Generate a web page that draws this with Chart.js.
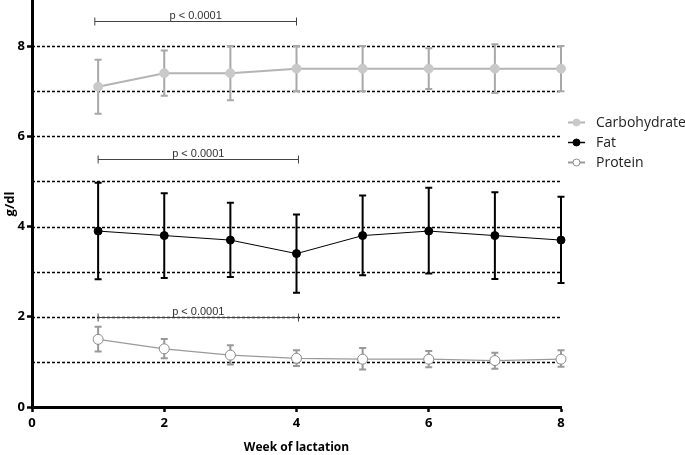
<!DOCTYPE html>
<html>
<head>
<meta charset="utf-8">
<script src="https://cdn.jsdelivr.net/npm/chart.js@4.4.0/dist/chart.umd.min.js"></script>
<style>
html,body{margin:0;padding:0;background:#fff;overflow:hidden;}
#wrap{width:685px;height:455px;position:relative;overflow:hidden;}
#c{position:absolute;left:0;top:-5px;}
</style>
</head>
<body>
<div id="wrap"><canvas id="c" width="685" height="460"></canvas></div>
<script>
const weeks = [1, 2, 3, 4, 5, 6, 7, 8];
const carbMean = [7.1, 7.4, 7.4, 7.5, 7.5, 7.5, 7.5, 7.5];
const carbLow  = [6.5, 6.9, 6.8, 7.0, 7.0, 7.05, 6.96, 7.0];
const carbHigh = [7.7, 7.9, 8.0, 8.0, 8.0, 7.95, 8.04, 8.0];
const fatMean = [3.9, 3.8, 3.7, 3.4, 3.8, 3.9, 3.8, 3.7];
const fatLow  = [2.83, 2.86, 2.88, 2.53, 2.92, 2.96, 2.84, 2.75];
const fatHigh = [4.97, 4.74, 4.53, 4.27, 4.69, 4.86, 4.76, 4.66];
const protMean = [1.5, 1.29, 1.15, 1.08, 1.06, 1.06, 1.03, 1.06];
const protLow  = [1.23, 1.08, 0.94, 0.91, 0.83, 0.88, 0.85, 0.89];
const protHigh = [1.78, 1.51, 1.37, 1.26, 1.31, 1.24, 1.20, 1.26];
const gridValues = [1, 2, 3, 4, 5, 6, 7, 8];
const yTickLabels = [0, 2, 4, 6, 8];
const xTickLabels = [0, 2, 4, 6, 8];
const bracketY = [8.56, 5.49, 2.0];
const bracketFrom = [0.95, 1.0, 1.0];
const bracketTo = [4.0, 4.03, 4.03];
const bracketText = ["p < 0.0001", "p < 0.0001", "p < 0.0001"];
const seriesNames = ["Carbohydrate", "Fat", "Protein"];

const pts = (m) => weeks.map((w, i) => ({x: w, y: m[i]}));

const styles = [
  {line:'#b4b4b4', lw:2, pf:'#c9c9c9', ps:'#c9c9c9', r:4.5, err:'#a8a8a8', ew:2},
  {line:'#000000', lw:1, pf:'#000000', ps:'#000000', r:4, err:'#000000', ew:2},
  {line:'#9a9a9a', lw:1.3, pf:'#ffffff', ps:'#8a8a8a', r:5, err:'#999999', ew:2}
];
const lows = [carbLow, fatLow, protLow];
const highs = [carbHigh, fatHigh, protHigh];

const gridPlugin = {
  id: 'dotgrid',
  beforeDatasetsDraw(chart) {
    const {ctx, chartArea, scales} = chart;
    ctx.save();
    ctx.strokeStyle = '#000';
    ctx.lineWidth = 1.5;
    ctx.setLineDash([3, 2]);
    gridValues.forEach(v => {
      const y = Math.round(scales.y.getPixelForValue(v)) + 0.5;
      ctx.beginPath();
      ctx.moveTo(chartArea.left, y);
      ctx.lineTo(chartArea.right, y);
      ctx.stroke();
    });
    ctx.restore();
  }
};

const errPlugin = {
  id: 'errbars',
  beforeDatasetsDraw(chart) {
    const {ctx, scales} = chart;
    ctx.save();
    chart.data.datasets.forEach((ds, di) => {
      const st = styles[di];
      ctx.strokeStyle = st.err;
      ctx.lineWidth = st.ew;
      weeks.forEach((w, i) => {
        const x = scales.x.getPixelForValue(w);
        const y1 = scales.y.getPixelForValue(lows[di][i]);
        const y2 = scales.y.getPixelForValue(highs[di][i]);
        ctx.beginPath();
        ctx.moveTo(x, y1); ctx.lineTo(x, y2);
        ctx.moveTo(x - 3.5, y1); ctx.lineTo(x + 3.5, y1);
        ctx.moveTo(x - 3.5, y2); ctx.lineTo(x + 3.5, y2);
        ctx.stroke();
      });
    });
    ctx.restore();
  },
  afterDraw(chart) {
    const {ctx, scales} = chart;
    ctx.save();
    bracketY.forEach((v, i) => {
      const y = Math.round(scales.y.getPixelForValue(v)) + 0.5;
      const x1 = scales.x.getPixelForValue(bracketFrom[i]);
      const x2 = scales.x.getPixelForValue(bracketTo[i]);
      ctx.strokeStyle = '#444';
      ctx.lineWidth = 1;
      ctx.setLineDash([]);
      ctx.beginPath();
      ctx.moveTo(x1, y); ctx.lineTo(x2, y);
      ctx.moveTo(x1, y - 4); ctx.lineTo(x1, y + 4);
      ctx.moveTo(x2, y - 4); ctx.lineTo(x2, y + 4);
      ctx.stroke();
      ctx.fillStyle = '#333';
      ctx.font = '11px "Liberation Sans", Arial, sans-serif';
      ctx.textAlign = 'center';
      ctx.textBaseline = 'alphabetic';
      ctx.fillText(bracketText[i], (x1 + x2) / 2, y - 3);
    });
    const lx = 568, ly = [127.5, 147.5, 167.5];
    seriesNames.forEach((name, i) => {
      const st = styles[i];
      ctx.strokeStyle = st.line;
      ctx.lineWidth = i === 1 ? 1.5 : 2;
      ctx.beginPath();
      ctx.moveTo(lx, ly[i]); ctx.lineTo(lx + 17, ly[i]);
      ctx.stroke();
      ctx.beginPath();
      ctx.arc(lx + 8.5, ly[i], 3.5, 0, Math.PI * 2);
      ctx.fillStyle = st.pf; ctx.fill();
      ctx.strokeStyle = st.ps; ctx.lineWidth = 1; ctx.stroke();
      ctx.fillStyle = '#222';
      ctx.font = '14px "Open Sans", "Liberation Sans", sans-serif';
      ctx.textAlign = 'left';
      ctx.textBaseline = 'middle';
      ctx.fillText(name, 596, ly[i] + 0.5);
    });
    ctx.restore();
  }
};

const datasets = [carbMean, fatMean, protMean].map((m, i) => ({
  label: seriesNames[i],
  data: pts(m),
  borderColor: styles[i].line,
  borderWidth: styles[i].lw,
  pointBackgroundColor: styles[i].pf,
  pointBorderColor: styles[i].ps,
  pointBorderWidth: 1,
  pointRadius: styles[i].r,
  tension: 0,
  fill: false,
  clip: false
}));

new Chart(document.getElementById('c'), {
  type: 'line',
  data: {datasets},
  plugins: [gridPlugin, errPlugin],
  options: {
    responsive: false,
    animation: false,
    layout: {padding: {left: 0, right: 124, top: 0, bottom: 0}},
    plugins: {legend: {display: false}, tooltip: {enabled: false}},
    scales: {
      x: {
        type: 'linear', min: 0, max: 8,
        afterBuildTicks: (s) => { s.ticks = xTickLabels.map(v => ({value: v})); },
        afterFit: (s) => { s.height = 48; },
        border: {display: true, color: '#000', width: 3},
        grid: {drawOnChartArea: false, drawTicks: true, tickLength: 5, tickColor: '#000', tickWidth: 2.5},
        ticks: {color: '#000', padding: 3, font: {family: '"Open Sans", "Liberation Sans", sans-serif', size: 13, weight: 'bold'}},
        title: {display: true, text: 'Week of lactation', color: '#000', padding: {top: 0, bottom: 0},
          font: {family: '"Open Sans", "Liberation Sans", sans-serif', size: 12, weight: 'bold'}}
      },
      y: {
        type: 'linear', min: 0, max: 9,
        afterBuildTicks: (s) => { s.ticks = yTickLabels.map(v => ({value: v})); },
        afterFit: (s) => { s.width = 32; },
        border: {display: true, color: '#000', width: 3},
        grid: {drawOnChartArea: false, drawTicks: true, tickLength: 5, tickColor: '#000', tickWidth: 2.5},
        ticks: {color: '#000', padding: 2, font: {family: '"Open Sans", "Liberation Sans", sans-serif', size: 13, weight: 'bold', lineHeight: 0.05}},
        title: {display: true, text: 'g/dl', color: '#000', padding: {top: 2, bottom: 0},
          font: {family: '"Open Sans", "Liberation Sans", sans-serif', size: 13, weight: 'bold'}}
      }
    }
  }
});
</script>
</body>
</html>
